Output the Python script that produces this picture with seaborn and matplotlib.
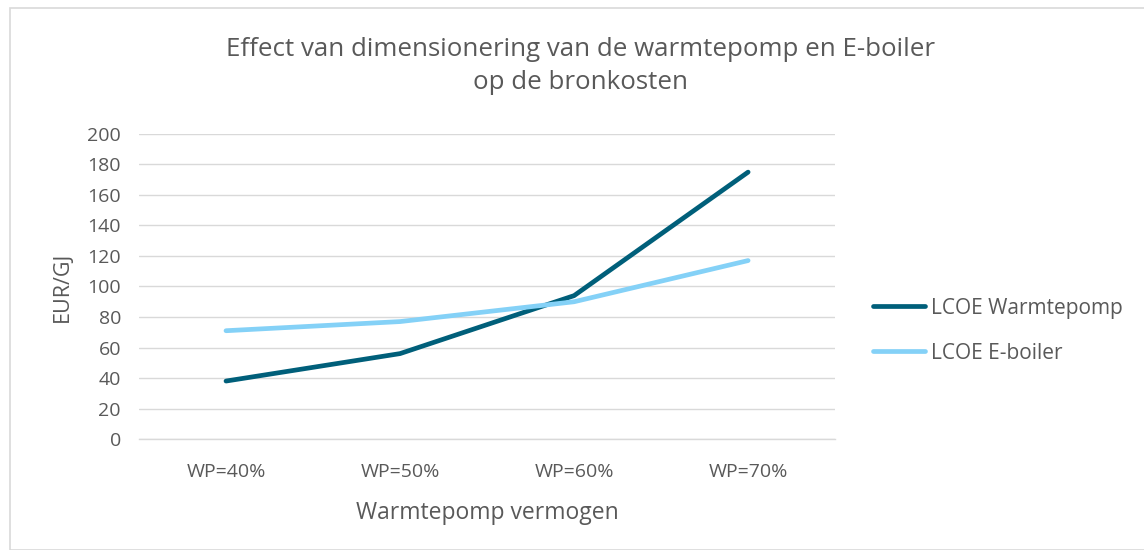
#!/usr/bin/env python3
"""Effect van dimensionering van de warmtepomp en E-boiler op de bronkosten."""

import matplotlib
matplotlib.use("Agg")
import matplotlib.pyplot as plt
import pandas as pd
import seaborn as sns
from matplotlib.patches import Rectangle

categories = ["WP=40%", "WP=50%", "WP=60%", "WP=70%"]
lcoe_warmtepomp = [38, 56, 94, 175]
lcoe_eboiler = [71, 77, 90, 117]
series_names = ["LCOE Warmtepomp", "LCOE E-boiler"]
colors = ["#005F7A", "#84D1F7"]

df = pd.DataFrame(
    {
        "cat": categories * 2,
        "value": lcoe_warmtepomp + lcoe_eboiler,
        "series": [series_names[0]] * 4 + [series_names[1]] * 4,
    }
)

sns.set_theme(style="white")
plt.rcParams["font.family"] = ["Open Sans", "DejaVu Sans"]
text_color = "#595959"
grid_color = "#D9D9D9"

fig = plt.figure(figsize=(11.44, 5.5), dpi=100)
ax = fig.add_axes([0.1215, 0.2018, 0.6085, 0.5546])

sns.lineplot(
    data=df,
    x="cat",
    y="value",
    hue="series",
    hue_order=series_names,
    palette=colors,
    linewidth=3.4,
    sort=False,
    ax=ax,
    legend=True,
)
for line in ax.lines:
    line.set_solid_capstyle("round")
    line.set_solid_joinstyle("round")

ax.set_xlim(-0.5, 3.5)
ax.set_ylim(0, 200)
ax.set_yticks(range(0, 201, 20))
ax.yaxis.grid(True, color=grid_color, linewidth=1.0)
ax.set_axisbelow(True)
for spine in ["top", "right", "left"]:
    ax.spines[spine].set_visible(False)
ax.spines["bottom"].set_color(grid_color)
ax.spines["bottom"].set_linewidth(1.0)
ax.tick_params(axis="both", length=0, labelsize=14, colors=text_color)
ax.tick_params(axis="y", pad=13)
ax.tick_params(axis="x", pad=17)
ax.set_xlabel("Warmtepomp vermogen", fontsize=16.5, color=text_color, labelpad=15)
ax.set_ylabel("EUR/GJ", fontsize=15.5, color=text_color, labelpad=10)

fig.text(
    0.507,
    0.88,
    "Effect van dimensionering van de warmtepomp en E-boiler\nop de bronkosten",
    ha="center",
    va="center",
    fontsize=18.6,
    color=text_color,
    linespacing=1.4,
)

leg = ax.legend(
    loc="center left",
    bbox_to_anchor=(1.027, 0.355),
    frameon=False,
    fontsize=15,
    handlelength=2.5,
    handletextpad=0.3,
    labelspacing=1.15,
    labelcolor=text_color,
)
for h in leg.get_lines():
    h.set_linewidth(3.4)
    h.set_solid_capstyle("round")

fig.patches.append(
    Rectangle(
        (10 / 1144, 0.0), 1.0, 1 - 8 / 550,
        transform=fig.transFigure, fill=False, edgecolor=grid_color, linewidth=1.2,
    )
)

fig.savefig("out.png", dpi=100)
plt.close(fig)
